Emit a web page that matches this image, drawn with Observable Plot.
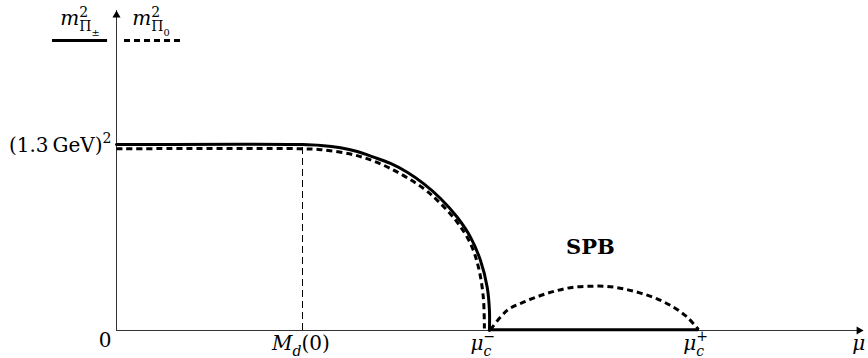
<!DOCTYPE html>
<html>
<head>
<meta charset="utf-8">
<script src="https://cdn.jsdelivr.net/npm/d3@7"></script>
<script src="https://cdn.jsdelivr.net/npm/@observablehq/plot@0.6"></script>
<style>
  html, body { margin: 0; padding: 0; background: #fff; }
  #chart svg { display: block; overflow: visible; }
</style>
</head>
<body>
<div id="chart"></div>
<script>
// ---- data (μ in units of M_d(0), m² in units of (1.3 GeV)²) ----
const solidMu = [0, 1, 1.1, 1.204, 1.294, 1.382, 1.473, 1.563, 1.651, 1.742, 1.832, 1.903, 1.957, 1.993, 2.005, 2.005];
const solidM2 = [1, 1, 0.995, 0.982, 0.962, 0.932, 0.898, 0.851, 0.790, 0.710, 0.609, 0.502, 0.376, 0.233, 0.108, 0];
const flatMu = [2.005, 3.124];
const flatM2 = [0, 0];
const dashedMu = [0, 1, 1.1, 1.294, 1.473, 1.651, 1.742, 1.832, 1.903, 1.946, 1.972, 1.978];
const dashedM2 = [0.977, 0.977, 0.972, 0.940, 0.871, 0.763, 0.683, 0.582, 0.468, 0.340, 0.179, 0.011];
const spbMu = [2.011, 2.100, 2.188, 2.280, 2.369, 2.457, 2.548, 2.638, 2.726, 2.817, 2.907, 2.995, 3.068, 3.129];
const spbM2 = [0.005, 0.108, 0.152, 0.188, 0.215, 0.233, 0.238, 0.237, 0.224, 0.201, 0.170, 0.125, 0.072, 0.005];

const mdValue = 1;            // M_d(0)
const yTickValue = 1;         // (1.3 GeV)²
const xAxisEnd = 4.016;
const yAxisEnd = 1.72;

const xTickPos = [0.992, 1.970, 3.113, 3.99];
const xTickLabels = ["*M*_{*d*}(0)", "*μ*_{*c*}^{−}", "*μ*_{*c*}^{+}", "*μ*"];
const originLabel = "0";
const yTickLabel = "(1.3\u2009GeV)^{2}";
const regionLabel = "SPB";
const regionPos = {mu: 2.548, m2: 0.409};
const legendLabels = ["*m*^{2}_{Π_{±}}", "*m*^{2}_{Π_{0}}"];
const legendKeys = ["solid", "dashed"];

// ---- build tables ----
const zip = (xs, ys) => xs.map((x, i) => ({mu: x, m2: ys[i]}));
const solid = zip(solidMu, solidM2);
const flat = zip(flatMu, flatM2);
const dashed = zip(dashedMu, dashedM2);
const spb = zip(spbMu, spbM2);
const xTicks = xTickPos.map((p, i) => ({mu: p, label: xTickLabels[i]}));

// legend layout (in scale units, left of / above axis)
const legY = 1.559, legTextY = 1.64;
const legend = [
  {x1: -0.344, x2: -0.048, xc: -0.196, key: legendKeys[0], label: legendLabels[0]},
  {x1: 0.043, x2: 0.349, xc: 0.185, key: legendKeys[1], label: legendLabels[1]}
];

const FONT = "DejaVu Serif";

const plot = Plot.plot({
  width: 868,
  height: 358,
  x: {domain: [0, 4], range: [116, 860], axis: null},
  y: {domain: [0, 1], range: [330, 144], axis: null},
  style: {fontFamily: FONT, fontSize: "20px", background: "#fff", color: "#000"},
  marks: [
    // axes
    Plot.ruleY([0], {x1: 0, x2: xAxisEnd, stroke: "#333", strokeWidth: 1}),
    Plot.ruleX([0], {y1: 0, y2: yAxisEnd, stroke: "#333", strokeWidth: 1}),
    Plot.dot([{mu: xAxisEnd, m2: 0}], {x: "mu", y: "m2", symbol: "triangle", r: 3, rotate: 90, fill: "#000", stroke: "none", dx: -4.5}),
    Plot.dot([{mu: 0, m2: yAxisEnd}], {x: "mu", y: "m2", symbol: "triangle", r: 3, fill: "#000", stroke: "none", dy: 4.5}),
    // M_d(0) guide
    Plot.ruleX([mdValue], {y1: 0, y2: yTickValue, stroke: "#000", strokeWidth: 1, strokeDasharray: "7,4"}),
    // curves
    Plot.line(solid, {x: "mu", y: "m2", stroke: "#000", strokeWidth: 3, curve: "catmull-rom"}),
    Plot.line(flat, {x: "mu", y: "m2", stroke: "#000", strokeWidth: 3, dy: -0.7}),
    Plot.line(dashed, {x: "mu", y: "m2", stroke: "#000", strokeWidth: 3, strokeDasharray: "6,4", strokeLinecap: "butt", curve: "catmull-rom"}),
    Plot.line(spb, {x: "mu", y: "m2", stroke: "#000", strokeWidth: 3, strokeDasharray: "6,4", strokeLinecap: "butt", curve: "catmull-rom"}),
    // legend keys
    Plot.ruleY(legend.filter(d => d.key === "solid"), {y: () => legY, x1: "x1", x2: "x2", stroke: "#000", strokeWidth: 3}),
    Plot.ruleY(legend.filter(d => d.key === "dashed"), {y: () => legY, x1: "x1", x2: "x2", stroke: "#000", strokeWidth: 3, strokeDasharray: "6,4"}),
    Plot.text(legend, {x: "xc", y: () => legTextY, text: "label", lineAnchor: "bottom", textAnchor: "middle", fontFamily: FONT}),
    // tick labels
    Plot.text(xTicks, {x: "mu", y: () => 0, text: "label", lineAnchor: "bottom", textAnchor: "middle", dy: 19, fontFamily: FONT}),
    Plot.text([originLabel], {x: () => 0, y: () => 0, text: d => d, lineAnchor: "bottom", textAnchor: "end", dx: -5, dy: 16, fontFamily: FONT}),
    Plot.text([yTickLabel], {x: () => 0, y: () => yTickValue, text: d => d, lineAnchor: "bottom", textAnchor: "end", dx: -5, dy: 7, fontFamily: FONT}),
    Plot.text([regionLabel], {x: () => regionPos.mu, y: () => regionPos.m2, text: d => d, lineAnchor: "bottom", textAnchor: "middle", fontWeight: "bold", fontSize: 21, fontFamily: FONT})
  ]
});

document.getElementById("chart").appendChild(plot);

// ---- simple math markup: *italic*, _{sub}, ^{sup} ----
function tokenize(s) {
  const items = []; let italic = false, buf = "", i = 0;
  const flush = () => { if (buf) items.push({type: "text", text: buf, italic}); buf = ""; };
  while (i < s.length) {
    const c = s[i];
    if (c === "*") { flush(); italic = !italic; i++; }
    else if ((c === "_" || c === "^") && s[i + 1] === "{") {
      flush();
      let depth = 0, j = i + 1;
      for (; j < s.length; j++) { if (s[j] === "{") depth++; else if (s[j] === "}" && --depth === 0) break; }
      items.push({type: c === "_" ? "sub" : "sup", content: s.slice(i + 2, j)});
      i = j + 1;
    } else { buf += c; i++; }
  }
  flush();
  return items;
}
function build(s, shift, size, out) {
  let prevGroup = null, pendingAfter = null;
  for (const it of tokenize(s)) {
    if (it.type === "text") {
      const seg = {text: it.text, italic: it.italic, shift, size};
      if (pendingAfter) { seg.after = pendingAfter; pendingAfter = null; }
      out.push(seg); prevGroup = null;
    } else {
      const grp = [];
      build(it.content, shift + (it.type === "sub" ? 0.3 : -0.42) * size, size * 0.7, grp);
      if (!grp.length) continue;
      if (prevGroup) { grp[0].stackOn = prevGroup; pendingAfter = {a: prevGroup, b: grp}; prevGroup = null; }
      else prevGroup = grp;
      out.push(...grp);
    }
  }
}
const NS = "http://www.w3.org/2000/svg";
const width = g => g.reduce((s, seg) => s + seg.el.getComputedTextLength(), 0);
plot.querySelectorAll("text").forEach(t => {
  const src = t.textContent;
  if (!/[_^*]/.test(src)) return;
  const fs = parseFloat(getComputedStyle(t).fontSize) || 20;
  const segs = [];
  build(src, 0, fs, segs);
  t.textContent = "";
  let cur = 0;
  for (const seg of segs) {
    const ts = document.createElementNS(NS, "tspan");
    ts.textContent = seg.text;
    ts.setAttribute("font-size", seg.size.toFixed(2));
    if (seg.italic) ts.setAttribute("font-style", "italic");
    const dy = seg.shift - cur;
    if (dy) ts.setAttribute("dy", dy.toFixed(2));
    cur = seg.shift;
    t.appendChild(ts);
    seg.el = ts;
  }
  for (const seg of segs) {
    let dx = 0;
    if (seg.stackOn) dx -= width(seg.stackOn);
    if (seg.after) { const wa = width(seg.after.a), wb = width(seg.after.b); if (wa > wb) dx += wa - wb; }
    if (dx) seg.el.setAttribute("dx", dx.toFixed(2));
  }
});
</script>
</body>
</html>
